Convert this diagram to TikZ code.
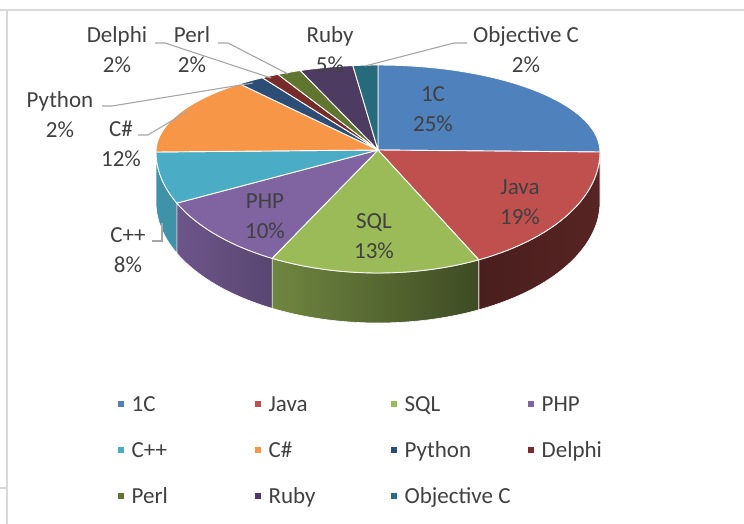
\documentclass[tikz,border=0pt]{standalone}
\usepackage{fontspec}
\setmainfont{Carlito}
\usetikzlibrary{positioning}

\definecolor{c1C}{HTML}{4F81BD}
\definecolor{cJava}{HTML}{C0504D}
\definecolor{cSQL}{HTML}{9BBB59}
\definecolor{cPHP}{HTML}{8064A2}
\definecolor{cCpp}{HTML}{4BACC6}
\definecolor{cCsharp}{HTML}{F79646}
\definecolor{cPython}{HTML}{2C4D75}
\definecolor{cDelphi}{HTML}{772C2A}
\definecolor{cPerl}{HTML}{5F7530}
\definecolor{cRuby}{HTML}{4D3B62}
\definecolor{cObjC}{HTML}{276A7C}
\definecolor{txtgray}{HTML}{404040}
\definecolor{leadgray}{HTML}{A6A6A6}
\definecolor{framegray}{HTML}{D9D9D9}

\def\cx{378}
\def\cy{150}
\def\cye{152}
\def\rx{222}
\def\ryt{87}
\def\ryb{121}
\def\dep{50}

\begin{document}
\begin{tikzpicture}[x=1pt, y=-1pt,
    slice/.style={draw=white, line width=0.9pt, line join=round},
    side/.style={draw=white, line width=0.6pt, line join=round},
    lbl/.style={text=txtgray, font=\fontsize{23}{30}\selectfont, align=center, inner sep=0pt},
    legsq/.style={minimum size=6.5pt, inner sep=0pt},
    legtxt/.style={text=txtgray, font=\fontsize{23}{28}\selectfont, inner sep=0pt, text height=15pt, text depth=0pt, anchor=west},
    leader/.style={draw=leadgray, line width=1.1pt},
    frame/.style={draw=framegray, line width=1.6pt}]
      \useasboundingbox (0,0) rectangle (744,524);
      \draw[frame] (0,10) -- (744,10);
      \draw[frame] (7,10) -- (7,524);
      \draw[frame] (0,488) -- (7,488);

      \path[side, left color=cJava!38!black, right color=cJava!45!black] plot[domain=90:153, samples=30] ({\cx+\rx*sin(\x)},{\cye-\ryb*cos(\x)}) -- plot[domain=153:90, samples=30] ({\cx+\rx*sin(\x)},{\cye+\dep-\ryb*cos(\x)}) -- cycle;
      \path[side, left color=cSQL!72!black, right color=cSQL!40!black] plot[domain=153:208.5, samples=30] ({\cx+\rx*sin(\x)},{\cye-\ryb*cos(\x)}) -- plot[domain=208.5:153, samples=30] ({\cx+\rx*sin(\x)},{\cye+\dep-\ryb*cos(\x)}) -- cycle;
      \path[side, left color=cPHP!85!black, right color=cPHP!70!black] plot[domain=208.5:245, samples=30] ({\cx+\rx*sin(\x)},{\cye-\ryb*cos(\x)}) -- plot[domain=245:208.5, samples=30] ({\cx+\rx*sin(\x)},{\cye+\dep-\ryb*cos(\x)}) -- cycle;
      \path[side, fill=cCpp!85!black] plot[domain=245:270, samples=20] ({\cx+\rx*sin(\x)},{\cye-\ryb*cos(\x)}) -- plot[domain=270:245, samples=20] ({\cx+\rx*sin(\x)},{\cye+\dep-\ryb*cos(\x)}) -- cycle;

      \fill[slice, fill=c1C] (\cx,\cy) -- plot[domain=0:90, samples=40] ({\cx+\rx*sin(\x)},{\cye-\ryt*cos(\x)}) -- cycle;
      \fill[slice, fill=cJava] (\cx,\cy) -- plot[domain=90:153, samples=30] ({\cx+\rx*sin(\x)},{\cye-\ryb*cos(\x)}) -- cycle;
      \fill[slice, fill=cSQL] (\cx,\cy) -- plot[domain=153:208.5, samples=30] ({\cx+\rx*sin(\x)},{\cye-\ryb*cos(\x)}) -- cycle;
      \fill[slice, fill=cPHP] (\cx,\cy) -- plot[domain=208.5:245, samples=30] ({\cx+\rx*sin(\x)},{\cye-\ryb*cos(\x)}) -- cycle;
      \fill[slice, fill=cCpp] (\cx,\cy) -- plot[domain=245:270, samples=20] ({\cx+\rx*sin(\x)},{\cye-\ryb*cos(\x)}) -- cycle;
      \fill[slice, fill=cCsharp] (\cx,\cy) -- plot[domain=270:321.5, samples=30] ({\cx+\rx*sin(\x)},{\cye-\ryt*cos(\x)}) -- cycle;
      \fill[slice, fill=cPython] (\cx,\cy) -- plot[domain=321.5:328.6, samples=10] ({\cx+\rx*sin(\x)},{\cye-\ryt*cos(\x)}) -- cycle;
      \fill[slice, fill=cDelphi] (\cx,\cy) -- plot[domain=328.6:333.2, samples=10] ({\cx+\rx*sin(\x)},{\cye-\ryt*cos(\x)}) -- cycle;
      \fill[slice, fill=cPerl] (\cx,\cy) -- plot[domain=333.2:339.5, samples=10] ({\cx+\rx*sin(\x)},{\cye-\ryt*cos(\x)}) -- cycle;
      \fill[slice, fill=cRuby] (\cx,\cy) -- plot[domain=339.5:353.5, samples=15] ({\cx+\rx*sin(\x)},{\cye-\ryt*cos(\x)}) -- cycle;
      \fill[slice, fill=cObjC] (\cx,\cy) -- plot[domain=353.5:360, samples=10] ({\cx+\rx*sin(\x)},{\cye-\ryt*cos(\x)}) -- cycle;

      \node[lbl] (l1C) at (433,109) {1C\\25\%};
      \node[lbl] (lJava) at (520,202) {Java\\19\%};
      \node[lbl] (lSQL) at (374,236) {SQL\\13\%};
      \node[lbl] (lPHP) at (265,216) {PHP\\10\%};
      \node[lbl] (lCpp) at (128,250) {C++\\8\%};
      \node[lbl] (lCsharp) at (121,144) {C\#\\12\%};
      \node[lbl] (lPython) at (60,115) {Python\\2\%};
      \node[lbl] (lDelphi) at (117,50) {Delphi\\2\%};
      \node[lbl] (lPerl) at (192,50) {Perl\\2\%};
      \node[lbl] (lRuby) at (330,50) {Ruby\\5\%};
      \node[lbl] (lObjC) at (526,50) {Objective C\\2\%};

      \coordinate (dA) at (155,43);
      \coordinate (dB) at (165,43);
      \coordinate (dC) at (271,78);
      \coordinate (pA) at (218,43);
      \coordinate (pB) at (228,43);
      \coordinate (pC) at (288,74);
      \coordinate (yA) at (102,106);
      \coordinate (yB) at (112,106);
      \coordinate (yC) at (253,83);
      \coordinate (csA) at (138,135);
      \coordinate (csB) at (148,135);
      \coordinate (csC) at (188,111);
      \coordinate (cpA) at (152,241);
      \coordinate (cpB) at (162,241);
      \coordinate (cpC) at (162,223);
      \coordinate (oA) at (365,66);
      \coordinate (oB) at (454,43);
      \coordinate (oC) at (467,43);
      \draw[leader] (dA) -- (dB) -- (dC);
      \draw[leader] (pA) -- (pB) -- (pC);
      \draw[leader] (yA) -- (yB) -- (yC);
      \draw[leader] (csA) -- (csB) -- (csC);
      \draw[leader] (cpA) -- (cpB) -- (cpC);
      \draw[leader] (oA) -- (oB) -- (oC);

      \node[legsq, fill=c1C] (s1C) at (121,404) {};
      \node[legsq, fill=cJava] (sJava) at (258,404) {};
      \node[legsq, fill=cSQL] (sSQL) at (394,404) {};
      \node[legsq, fill=cPHP] (sPHP) at (531,404) {};
      \node[legsq, fill=cCpp] (sCpp) at (121,450) {};
      \node[legsq, fill=cCsharp] (sCsharp) at (258,450) {};
      \node[legsq, fill=cPython] (sPython) at (394,450) {};
      \node[legsq, fill=cDelphi] (sDelphi) at (531,450) {};
      \node[legsq, fill=cPerl] (sPerl) at (121,496) {};
      \node[legsq, fill=cRuby] (sRuby) at (258,496) {};
      \node[legsq, fill=cObjC] (sObjC) at (394,496) {};
      \node[legtxt, right=7pt of s1C] (t1C) {1C};
      \node[legtxt, right=7pt of sJava] (tJava) {Java};
      \node[legtxt, right=7pt of sSQL] (tSQL) {SQL};
      \node[legtxt, right=7pt of sPHP] (tPHP) {PHP};
      \node[legtxt, right=7pt of sCpp] (tCpp) {C++};
      \node[legtxt, right=7pt of sCsharp] (tCsharp) {C\#};
      \node[legtxt, right=7pt of sPython] (tPython) {Python};
      \node[legtxt, right=7pt of sDelphi] (tDelphi) {Delphi};
      \node[legtxt, right=7pt of sPerl] (tPerl) {Perl};
      \node[legtxt, right=7pt of sRuby] (tRuby) {Ruby};
      \node[legtxt, right=7pt of sObjC] (tObjC) {Objective C};
    \end{tikzpicture}
\end{document}
